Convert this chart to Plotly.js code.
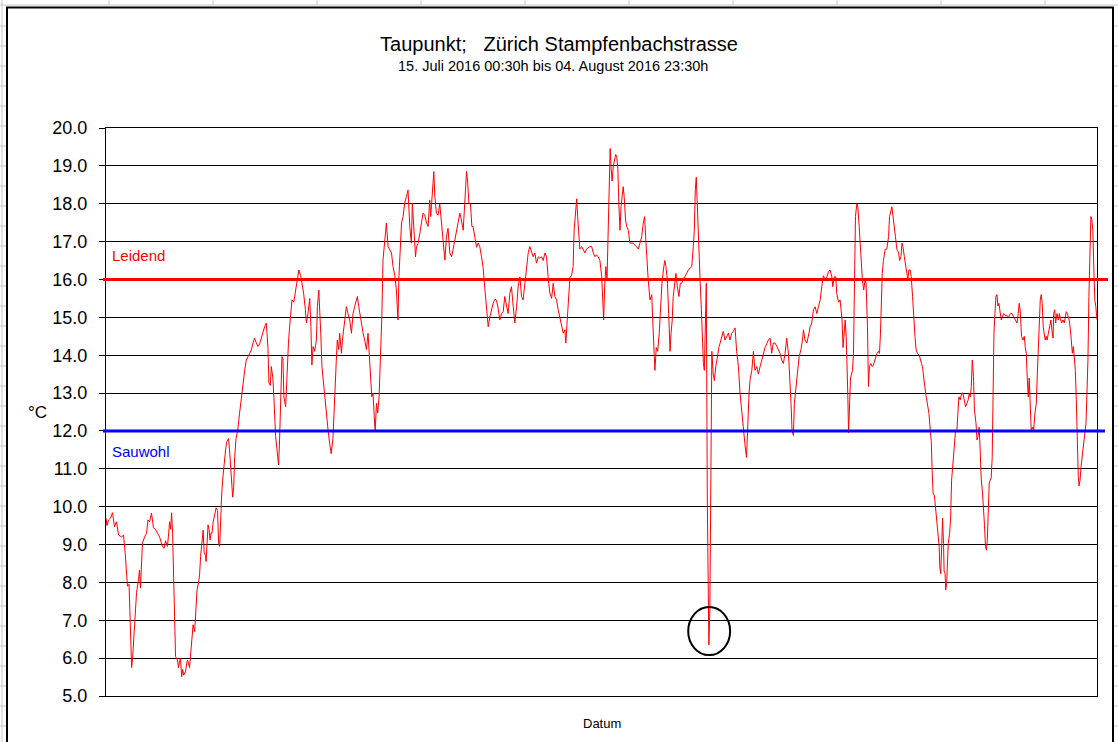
<!DOCTYPE html>
<html>
<head>
<meta charset="utf-8">
<script src="https://cdn.plot.ly/plotly-3.0.1.min.js"></script>
<style>
  html, body { margin: 0; padding: 0; background: #ffffff; }
  #chart { width: 1118px; height: 742px; }
</style>
</head>
<body>
<div id="chart"></div>
<script>
// Hours since 15. Juli 2016 00:30h
const hours = [
  0, 0.5, 1.3, 2.3, 3.3, 4.3, 5.3, 6.4, 7.9, 8.9,
  9.7, 10.4, 10.9, 11.7, 12.2, 13.0, 13.5, 14.0, 14.5, 15.0,
  15.5, 16.5, 17.0, 17.5, 18.0, 18.5, 19.6, 20.6, 21.3, 22.1,
  23.1, 24.1, 25.1, 26.2, 27.2, 28.7, 29.5, 30.2, 31.2, 31.8,
  32.3, 32.8, 33.3, 33.8, 34.3, 34.8, 35.3, 36.3, 36.8, 37.3,
  37.8, 38.4, 38.9, 39.4, 40.4, 40.9, 41.4, 42.4, 42.9, 43.4,
  44.2, 45.0, 45.5, 46.2, 47.0, 47.5, 48.0, 48.8, 49.3, 49.8,
  50.5, 50.8, 51.3, 51.8, 52.3, 52.8, 53.3, 53.8, 54.4, 55.1,
  55.9, 56.6, 57.2, 57.7, 58.2, 58.7, 59.2, 59.7, 60.2, 60.7,
  61.2, 62.2, 62.7, 63.5, 64.3, 64.8, 65.3, 66.0, 66.8, 67.8,
  68.7, 69.5, 70.4, 71.2, 72.0, 72.9, 73.8, 74.6, 75.4, 76.3,
  77.1, 78.0, 78.8, 79.7, 80.5, 81.4, 82.2, 82.7, 83.4, 83.9,
  84.7, 85.2, 86.1, 86.8, 87.6, 88.1, 88.6, 89.3, 89.8, 90.3,
  91.2, 91.8, 92.6, 93.2, 93.7, 94.4, 95.3, 96.1, 96.6, 97.4,
  97.9, 98.8, 99.5, 100.3, 101.2, 101.7, 102.5, 103.4, 104.0, 104.5,
  105.1, 105.9, 106.8, 107.3, 108.0, 108.5, 109.0, 109.6, 110.5, 111.2,
  111.9, 112.7, 113.5, 114.3, 115.2, 115.7, 116.4, 116.9, 117.4, 118.1,
  118.6, 119.5, 120.0, 120.7, 121.3, 122.0, 122.8, 123.7, 124.6, 125.4,
  126.2, 127.1, 127.6, 128.3, 129.1, 129.9, 130.5, 131.3, 132.2, 133.0,
  133.5, 134.2, 134.9, 135.5, 136.0, 136.6, 137.3, 137.9, 138.6, 139.3,
  140.0, 140.6, 141.5, 142.3, 143.2, 144.0, 144.9, 145.7, 146.6, 147.4,
  148.2, 148.7, 149.3, 150.0, 150.8, 151.6, 152.5, 153.3, 154.2, 155.0,
  155.5, 156.4, 157.1, 157.6, 158.4, 159.3, 160.1, 160.9, 161.8, 162.7,
  163.5, 164.3, 164.8, 165.5, 166.4, 166.9, 167.7, 168.6, 169.4, 170.3,
  171.1, 172.0, 172.8, 173.6, 174.5, 175.4, 176.2, 177.0, 177.9, 178.7,
  179.6, 180.4, 181.3, 182.1, 183.0, 183.5, 184.2, 185.0, 185.7, 186.3,
  187.2, 188.1, 188.9, 189.7, 190.6, 191.4, 192.3, 193.1, 194.0, 194.8,
  195.7, 196.5, 197.4, 198.2, 199.0, 199.9, 200.8, 201.6, 202.4, 203.3,
  204.1, 205.0, 205.8, 206.7, 207.5, 208.4, 209.2, 210.1, 210.9, 211.7,
  212.6, 213.5, 214.3, 215.1, 216.0, 216.8, 217.7, 218.5, 219.4, 220.2,
  221.1, 221.9, 222.8, 223.6, 224.4, 225.3, 226.2, 227.0, 227.8, 228.7,
  229.5, 230.4, 231.2, 232.1, 232.9, 233.4, 234.1, 234.6, 235.5, 236.3,
  237.1, 237.6, 238.4, 238.9, 239.4, 240.0, 240.5, 241.4, 242.2, 243.1,
  243.9, 244.8, 245.6, 246.5, 247.3, 248.2, 249.0, 249.8, 250.7, 251.6,
  252.1, 252.6, 253.1, 253.7, 254.3, 254.8, 255.1, 255.6, 255.9, 256.4,
  256.9, 257.5, 258.2, 258.7, 259.2, 259.8, 260.3, 260.9, 261.4, 262.0,
  262.5, 263.0, 263.7, 264.3, 265.1, 265.9, 266.8, 267.6, 268.5, 269.3,
  270.2, 271.0, 271.9, 272.7, 273.4, 273.9, 274.4, 275.2, 276.1, 277.0,
  277.5, 278.0, 278.6, 279.3, 280.0, 280.8, 281.5, 282.2, 282.9, 283.6,
  284.2, 284.9, 285.6, 286.3, 286.8, 287.4, 287.9, 288.8, 289.3, 290.0,
  290.8, 291.5, 292.2, 293.0, 293.9, 294.7, 295.6, 296.4, 297.3, 298.1,
  298.6, 299.1, 299.6, 300.1, 300.6, 301.1, 301.6, 302.2, 302.7, 303.2,
  303.7, 304.2, 304.7, 305.2, 306.0, 306.5, 307.0, 307.5, 308.2, 308.8,
  309.5, 310.0, 310.5, 311.2, 311.7, 312.5, 313.3, 314.2, 315.1, 315.9,
  316.7, 317.6, 318.4, 319.3, 320.1, 321.0, 321.8, 322.7, 323.5, 324.4,
  325.1, 325.7, 326.4, 326.9, 327.8, 328.6, 329.4, 330.3, 331.1, 332.0,
  332.8, 333.7, 334.5, 335.4, 336.2, 337.1, 337.9, 338.7, 339.6, 340.5,
  341.3, 342.1, 343.0, 343.8, 344.7, 345.5, 346.4, 347.2, 347.7, 348.2,
  348.9, 349.4, 350.1, 350.9, 351.8, 352.7, 353.5, 354.0, 354.8, 355.7,
  356.5, 357.4, 358.2, 359.1, 359.9, 360.8, 361.6, 362.5, 363.3, 364.1,
  365.0, 365.9, 366.7, 367.5, 368.4, 368.9, 369.6, 370.4, 370.9, 371.8,
  372.6, 373.1, 373.6, 374.1, 374.6, 375.2, 375.7, 376.0, 376.5, 376.9,
  377.4, 377.9, 378.4, 378.9, 379.4, 379.9, 380.4, 381.1, 381.6, 382.3,
  382.8, 383.4, 383.9, 384.6, 385.3, 385.8, 386.5, 387.0, 387.5, 388.2,
  388.9, 389.5, 390.4, 391.3, 392.1, 392.6, 393.1, 393.5, 394.0, 394.6,
  395.5, 396.3, 397.2, 397.7, 398.4, 398.9, 399.4, 400.1, 400.7, 401.4,
  402.3, 402.8, 403.5, 404.0, 404.5, 405.2, 405.8, 406.5, 407.0, 407.5,
  408.2, 408.7, 409.4, 409.9, 410.6, 411.2, 411.9, 412.8, 413.3, 413.9,
  414.4, 414.9, 415.6, 416.3, 417.0, 417.7, 418.4, 418.9, 419.3, 419.8,
  420.5, 421.0, 421.5, 422.2, 422.9, 423.2, 423.7, 424.2, 424.6, 425.1,
  425.4, 425.9, 426.2, 426.7, 427.0, 427.5, 428.2, 428.7, 429.2, 429.7,
  430.2, 430.7, 431.2, 431.9, 432.4, 432.9, 433.6, 434.3, 434.9, 435.8,
  436.3, 437.0, 437.6, 438.2, 438.7, 439.2, 439.7, 440.3, 440.8, 441.6,
  442.1, 442.6, 443.2, 443.7, 444.2, 444.9, 445.4, 445.9, 446.4, 446.9,
  447.3, 447.8, 448.3, 448.8, 449.3, 449.8, 450.2, 450.7, 451.2, 451.7,
  452.2, 452.7, 453.2, 453.9, 454.4, 454.9, 455.6, 456.4, 457.3, 458.1,
  459.0, 459.8, 460.7, 461.5, 462.4, 463.0, 463.5, 464.0, 464.7, 465.4,
  466.1, 466.6, 467.1, 467.6, 468.1, 468.6, 469.1, 469.6, 470.3, 470.8,
  471.5, 472.2, 472.7, 473.2, 473.7, 474.2, 474.7, 475.2, 475.7, 476.2,
  476.7, 477.2, 477.7, 478.3, 478.9, 479.6, 480.1, 480.7, 481.0, 481.5,
  482.0, 482.7, 483.4, 483.9, 484.4, 485.0, 485.7, 486.4, 486.9, 487.4,
  487.9, 488.4, 488.9, 489.5, 490.0, 490.5, 491.0, 491.5, 492.0, 492.5,
  493.0, 493.5, 493.9, 494.4, 494.9, 495.6, 496.2, 496.9, 497.4, 497.9,
  498.4, 498.9, 499.4, 499.9, 500.4, 500.9, 501.4, 501.9, 502.4, 503.0
];

// Taupunkt in °C
const dewPoint = [
  9.7, 9.5, 9.65, 9.7, 9.84, 9.47, 9.6, 9.25, 9.2, 9.25,
  8.8, 8.2, 7.9, 7.95, 7.1, 5.75, 6.0, 6.5, 6.74, 7.46,
  7.73, 8.07, 8.33, 7.85, 8.4, 9.04, 9.2, 9.3, 9.65, 9.6,
  9.83, 9.44, 9.4, 9.3, 9.2, 8.94, 8.9, 9.1, 8.95, 9.3,
  9.6, 9.4, 9.84, 9.3, 8.12, 6.7, 6.04, 5.95, 5.75, 5.9,
  6.0, 5.51, 5.7, 5.55, 5.65, 5.85, 5.95, 5.75, 6.1, 6.53,
  6.88, 6.7, 7.36, 7.8, 8.0, 8.2, 8.68, 9.2, 9.38, 8.8,
  8.7, 8.55, 9.1, 9.52, 9.4, 9.12, 9.3, 9.3, 9.6, 9.8,
  9.97, 9.9, 9.0, 8.95, 9.9, 10.31, 10.7, 11.05, 11.3, 11.5,
  11.7, 11.8, 11.5, 10.8, 10.25, 10.5, 11.3, 11.8, 12.0, 12.47,
  12.9, 13.27, 13.6, 13.87, 13.96, 14.05, 14.14, 14.32, 14.45, 14.32,
  14.23, 14.3, 14.45, 14.58, 14.75, 14.85, 14.2, 13.27, 13.2, 13.7,
  13.4, 12.9, 11.85, 11.5, 11.1, 11.76, 12.55, 13.96, 13.9, 12.9,
  12.64, 13.5, 14.32, 14.75, 15.1, 15.46, 15.4, 15.64, 15.8, 15.99,
  16.25, 16.1, 15.9, 15.64, 15.2, 14.85, 15.1, 15.5, 14.75, 13.74,
  14.23, 14.1, 14.4, 15.28, 15.72, 15.3, 14.58, 13.7, 13.17, 12.9,
  12.55, 12.03, 11.68, 11.4, 11.8, 12.55, 13.35, 13.87, 14.4, 14.15,
  14.58, 14.05, 14.4, 14.75, 14.93, 15.28, 15.1, 14.93, 14.58, 15.1,
  15.28, 15.46, 15.55, 15.28, 15.0, 14.75, 14.58, 14.4, 14.15, 14.58,
  14.05, 13.6, 12.9, 13.0, 12.47, 11.98, 12.73, 12.47, 12.9, 13.87,
  15.02, 16.51, 17.13, 17.49, 16.87, 16.8, 16.7, 16.34, 16.1, 15.72,
  14.93, 16.1, 16.96, 17.49, 17.66, 18.02, 18.19, 18.36, 17.39, 16.96,
  18.02, 17.3, 16.6, 16.87, 16.96, 17.22, 17.49, 17.75, 17.7, 17.49,
  17.4, 18.1, 17.66, 18.19, 18.85, 18.2, 17.75, 17.7, 18.0, 17.49,
  16.96, 16.51, 17.13, 17.35, 16.7, 16.6, 16.8, 17.05, 17.3, 17.57,
  17.75, 17.57, 17.3, 18.02, 18.85, 18.63, 18.0, 18.0, 17.4, 17.4,
  17.13, 16.85, 16.96, 16.87, 16.6, 16.32, 15.75, 15.33, 14.75, 15.0,
  15.2, 15.37, 15.48, 15.45, 15.25, 14.93, 15.1, 15.15, 15.55, 15.28,
  15.1, 15.64, 15.81, 15.28, 14.85, 15.28, 15.81, 16.07, 15.55, 15.46,
  15.9, 16.16, 16.7, 16.87, 16.7, 16.6, 16.7, 16.43, 16.6, 16.56,
  16.6, 16.5, 16.7, 16.6, 16.07, 15.64, 15.5, 15.9, 15.55, 15.46,
  15.2, 15.0, 14.75, 14.58, 14.67, 14.32, 14.93, 15.46, 16.07, 16.1,
  16.34, 17.3, 17.92, 18.13, 17.66, 16.96, 16.8, 16.87, 16.8, 16.7,
  16.8, 16.84, 16.87, 16.87, 16.7, 16.6, 16.65, 16.6, 16.5, 16.07,
  15.37, 14.93, 15.81, 16.34, 16.0, 17.05, 18.22, 19.1, 19.46, 18.93,
  18.6, 19.0, 19.2, 19.3, 19.27, 18.93, 18.0, 17.3, 17.92, 18.36,
  18.45, 18.19, 17.57, 17.4, 17.3, 16.96, 16.96, 16.96, 16.9, 16.87,
  16.8, 16.96, 17.13, 17.49, 17.66, 17.13, 16.6, 16.0, 15.46, 15.6,
  14.93, 14.05, 13.6, 14.2, 14.1, 14.58, 15.28, 15.9, 16.25, 16.5,
  16.34, 16.0, 15.1, 14.1, 14.58, 14.93, 15.55, 16.07, 16.16, 15.81,
  15.55, 15.9, 15.9, 16.0, 16.07, 16.16, 16.25, 16.3, 16.34, 16.87,
  17.3, 18.36, 18.7, 18.0, 17.13, 16.43, 15.9, 15.2, 14.4, 13.8,
  13.6, 14.85, 15.9, 10.2, 6.35, 7.3, 11.2, 14.1, 13.5, 13.33,
  13.7, 13.87, 14.05, 14.23, 14.32, 14.5, 14.63, 14.4, 14.5, 14.58,
  14.4, 14.58, 14.63, 14.72, 14.1, 13.7, 13.0, 12.47, 11.93, 11.6,
  11.3, 12.3, 13.0, 13.35, 13.6, 14.1, 13.6, 13.7, 13.5, 13.7,
  13.87, 14.1, 14.2, 14.3, 14.4, 14.45, 14.05, 14.32, 14.32, 14.23,
  14.14, 14.05, 13.87, 13.78, 14.05, 14.45, 14.05, 13.35, 12.73, 12.03,
  11.88, 12.73, 13.17, 13.5, 13.96, 14.14, 14.4, 14.67, 14.4, 14.32,
  14.5, 14.75, 14.85, 15.2, 15.28, 15.1, 15.28, 15.46, 15.81, 16.1,
  16.0, 16.07, 16.2, 16.25, 16.07, 15.81, 16.07, 16.07, 15.64, 15.4,
  15.46, 15.1, 14.93, 14.2, 14.58, 14.93, 14.5, 14.05, 13.0, 11.95,
  12.64, 13.4, 13.5, 13.6, 14.05, 15.9, 17.66, 18.0, 17.92, 17.4,
  16.87, 16.5, 16.0, 15.72, 16.0, 15.9, 14.75, 13.17, 13.7, 13.78,
  13.7, 13.74, 13.87, 14.05, 14.1, 14.05, 14.58, 15.64, 16.16, 16.5,
  16.8, 16.8, 17.13, 17.66, 17.84, 17.92, 17.7, 17.3, 17.13, 16.8,
  16.7, 16.5, 16.6, 16.96, 16.87, 16.6, 16.34, 16.16, 16.0, 16.25,
  16.25, 16.07, 15.55, 14.93, 14.5, 14.14, 14.05, 14.0, 13.87, 13.78,
  13.7, 13.4, 13.17, 12.9, 12.73, 12.47, 12.0, 11.72, 10.97, 10.36,
  10.28, 10.0, 9.85, 9.3, 8.94, 8.41, 8.23, 9.03, 9.7, 9.03,
  8.3, 8.23, 7.8, 7.97, 8.5, 9.03, 9.3, 9.7, 10.7, 11.05,
  11.42, 11.85, 12.0, 12.03, 12.64, 12.9, 12.82, 13.0, 13.0, 12.73,
  12.64, 12.73, 12.82, 13.0, 12.9, 13.17, 13.87, 13.43, 12.55, 12.2,
  11.76, 11.85, 12.1, 11.5, 10.76, 10.36, 10.0, 9.5, 8.94, 8.85,
  9.1, 10.2, 10.63, 10.7, 10.76, 11.3, 13.1, 14.58, 15.1, 15.55,
  15.6, 15.3, 15.37, 15.1, 14.93, 15.0, 15.1, 15.05, 15.05, 15.0,
  15.1, 15.1, 15.0, 14.93, 14.85, 15.1, 15.37, 15.2, 14.5, 14.4,
  14.5, 14.2, 14.05, 13.4, 12.9, 13.4, 12.9, 12.03, 12.1, 12.0,
  12.47, 12.73, 13.5, 14.32, 14.75, 15.46, 15.6, 15.37, 14.75, 14.58,
  14.4, 14.5, 14.4, 14.58, 14.75, 14.93, 14.67, 14.45, 15.1, 15.2,
  14.85, 15.1, 14.93, 15.1, 14.97, 14.85, 14.93, 14.85, 15.0, 15.15,
  15.1, 15.0, 14.93, 14.67, 14.23, 14.05, 14.23, 13.96, 13.6, 12.82,
  11.7, 10.8, 10.55, 10.7, 11.05, 11.4, 11.7, 12.0, 12.2, 13.0,
  13.87, 15.55, 17.05, 17.66, 17.57, 17.3, 16.25, 15.46, 15.28, 14.93
];

const leidendLevel = 16;
const sauwohlLevel = 12;
const yRange = [5, 20];
const markedHour = 306.0;   // suspicious outlier circled in the original
const titleText = 'Taupunkt;\u00a0\u00a0\u00a0Zürich Stampfenbachstrasse';
const subtitleText = '15. Juli 2016 00:30h bis 04. August 2016 23:30h';
const xAxisLabel = 'Datum';
const yAxisLabel = '°C';
const leidendLabel = 'Leidend';
const sauwohlLabel = 'Sauwohl';

const FONT = 'Liberation Sans, Arial, sans-serif';
const W = 1118, H = 742;
const M = { l: 106, r: 21, t: 128, b: 46 };
const PW = W - M.l - M.r, PH = H - M.t - M.b;
const px = x => (x - M.l) / PW;
const py = y => (H - M.b - y) / PH;

const markIdx = hours.indexOf(markedHour);

const shapes = [];
const sheetGray = '#c8c8c8';
// spreadsheet background lines outside the chart object
shapes.push({ type: 'line', xref: 'paper', yref: 'paper', x0: px(0), x1: px(W), y0: py(5), y1: py(5), line: { color: sheetGray, width: 1 } });
for (let x = 109; x < W; x += 104) {
  shapes.push({ type: 'line', xref: 'paper', yref: 'paper', x0: px(x), x1: px(x), y0: py(0), y1: py(5), line: { color: sheetGray, width: 1 } });
}
shapes.push({ type: 'line', xref: 'paper', yref: 'paper', x0: px(2), x1: px(2), y0: py(0), y1: py(H), line: { color: sheetGray, width: 1 } });
for (let y = 26; y < H; y += 20) {
  shapes.push({ type: 'line', xref: 'paper', yref: 'paper', x0: px(0), x1: px(6), y0: py(y), y1: py(y), line: { color: sheetGray, width: 1 } });
  shapes.push({ type: 'line', xref: 'paper', yref: 'paper', x0: px(1114), x1: px(W), y0: py(y), y1: py(y), line: { color: sheetGray, width: 1 } });
}
// chart object border
shapes.push({ type: 'rect', xref: 'paper', yref: 'paper', x0: px(7), x1: px(1113), y0: py(H + 20), y1: py(7.5), line: { color: '#000000', width: 2 }, fillcolor: 'rgba(0,0,0,0)' });
// threshold lines
shapes.push({ type: 'line', xref: 'paper', yref: 'y', x0: px(103), x1: px(1108), y0: leidendLevel, y1: leidendLevel, line: { color: '#ff0000', width: 3 } });
shapes.push({ type: 'line', xref: 'paper', yref: 'y', x0: px(103), x1: px(1105), y0: sauwohlLevel, y1: sauwohlLevel, line: { color: '#0000ff', width: 3 } });
// ellipse marking the outlier
shapes.push({ type: 'circle', xref: 'x', yref: 'y',
  x0: hours[markIdx] - 10.5, x1: hours[markIdx] + 10.8,
  y0: dewPoint[markIdx] - 0.27, y1: dewPoint[markIdx] + 1.0,
  line: { color: '#000000', width: 2 } });

const annotations = [
  { text: subtitleText, xref: 'paper', yref: 'paper', x: px(553), y: py(66), xanchor: 'center', yanchor: 'middle', showarrow: false, font: { family: FONT, size: 14.5, color: '#000' } },
  { text: yAxisLabel, xref: 'paper', yref: 'paper', x: px(37), y: py(412), xanchor: 'center', yanchor: 'middle', showarrow: false, font: { family: FONT, size: 17, color: '#000' } },
  { text: xAxisLabel, xref: 'paper', yref: 'paper', x: 0.5, y: py(723), xanchor: 'center', yanchor: 'middle', showarrow: false, font: { family: FONT, size: 13, color: '#000' } },
  { text: leidendLabel, xref: 'paper', yref: 'paper', x: px(110), y: py(255), xanchor: 'left', yanchor: 'middle', showarrow: false, font: { family: FONT, size: 15, color: '#ff0000' } },
  { text: sauwohlLabel, xref: 'paper', yref: 'paper', x: px(110), y: py(451), xanchor: 'left', yanchor: 'middle', showarrow: false, font: { family: FONT, size: 15, color: '#0000ff' } }
];

const trace = {
  x: hours, y: dewPoint, type: 'scatter', mode: 'lines',
  line: { color: '#ff0000', width: 1 }, hoverinfo: 'skip', showlegend: false
};

const layout = {
  width: W, height: H,
  margin: { l: M.l, r: M.r, t: M.t, b: M.b, pad: 0 },
  paper_bgcolor: '#ffffff', plot_bgcolor: '#ffffff',
  font: { family: FONT, color: '#000' },
  title: { text: titleText, x: 0.5, xref: 'container', xanchor: 'center', y: 1 - 44 / H, yref: 'container', yanchor: 'middle', font: { family: FONT, size: 20, color: '#000' } },
  showlegend: false,
  xaxis: { range: [hours[0], hours[hours.length - 1]], showticklabels: false, ticks: '', showgrid: false, zeroline: false, showline: true, mirror: true, linecolor: '#000', linewidth: 1, fixedrange: true },
  yaxis: { range: yRange, tick0: 5, dtick: 1, tickformat: '.1f', ticks: 'outside', ticklen: 6, tickwidth: 1, tickcolor: '#000', showgrid: true, gridcolor: '#000', gridwidth: 1, zeroline: false, showline: true, mirror: true, linecolor: '#000', linewidth: 1, tickfont: { family: FONT, size: 18, color: '#000' }, ticklabelstandoff: 8, fixedrange: true },
  shapes: shapes,
  annotations: annotations
};

Plotly.newPlot('chart', [trace], layout, { staticPlot: true, displayModeBar: false });
</script>
</body>
</html>
